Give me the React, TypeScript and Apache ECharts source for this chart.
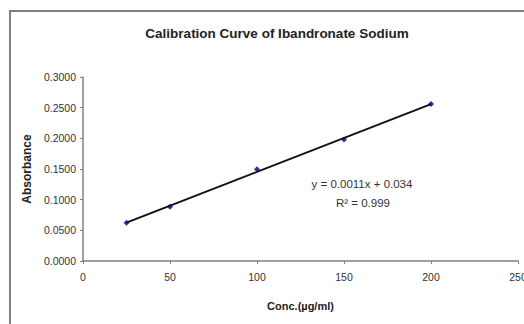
import React, { useEffect, useRef } from "react";
import * as echarts from "echarts";

const concentrations = [25, 50, 100, 150, 200];
const absorbances = [0.0624, 0.0885, 0.1495, 0.198, 0.256];
const xTicks = [0, 50, 100, 150, 200, 250];
const yTicks = [0, 0.05, 0.1, 0.15, 0.2, 0.25, 0.3];
const titleText = "Calibration Curve of Ibandronate Sodium";
const xName = "Conc.(µg/ml)";
const yName = "Absorbance";
const equationText = "y = 0.0011x + 0.034";
const r2Text = "R² = 0.999";

function fitLine(xs: number[], ys: number[]) {
  const n = xs.length;
  const mx = xs.reduce((a, b) => a + b, 0) / n;
  const my = ys.reduce((a, b) => a + b, 0) / n;
  let sxy = 0;
  let sxx = 0;
  for (let i = 0; i < n; i++) {
    sxy += (xs[i] - mx) * (ys[i] - my);
    sxx += (xs[i] - mx) * (xs[i] - mx);
  }
  const slope = sxy / sxx;
  return { slope, intercept: my - slope * mx };
}

export default function App() {
  const ref = useRef<HTMLDivElement>(null);
  useEffect(() => {
    if (!ref.current) return;
    const chart = echarts.init(ref.current, null, { renderer: "svg" });
    const { slope, intercept } = fitLine(concentrations, absorbances);
    const x0 = concentrations[0];
    const x1 = concentrations[concentrations.length - 1];
    const font = "'Liberation Sans', Arial, sans-serif";
    chart.setOption({
      animation: false,
      backgroundColor: "#ffffff",
      title: {
        text: titleText,
        left: 272,
        top: 21,
        textAlign: "center",
        textStyle: { fontFamily: font, fontSize: 13.5, fontWeight: "bold", color: "#222" },
      },
      grid: { left: 83, top: 77, right: 6, bottom: 63, containLabel: false, outerBoundsMode: "none" },
      xAxis: {
        type: "value",
        min: xTicks[0],
        max: xTicks[xTicks.length - 1],
        interval: 50,
        name: xName,
        nameLocation: "middle",
        nameGap: 39,
        nameTextStyle: { fontFamily: font, fontSize: 11, fontWeight: "bold", color: "#222" },
        axisLine: { show: true, lineStyle: { color: "#808080", width: 1.5 } },
        axisTick: { show: true, inside: false, length: 3, lineStyle: { color: "#808080" } },
        axisLabel: { fontFamily: font, fontSize: 10.5, color: "#333", margin: 10 },
        splitLine: { show: false },
      },
      yAxis: {
        type: "value",
        min: yTicks[0],
        max: yTicks[yTicks.length - 1],
        interval: 0.05,
        name: yName,
        nameLocation: "middle",
        nameGap: 50,
        nameRotate: 90,
        nameTextStyle: { fontFamily: font, fontSize: 12, fontWeight: "bold", color: "#222" },
        axisLine: { show: true, lineStyle: { color: "#808080", width: 1.5 } },
        axisTick: { show: true, inside: false, length: 3, lineStyle: { color: "#808080" } },
        axisLabel: {
          fontFamily: font,
          fontSize: 10.5,
          color: "#333",
          margin: 7,
          formatter: (v: number) => v.toFixed(4),
        },
        splitLine: { show: false },
      },
      series: [
        {
          type: "line",
          name: "Trendline",
          data: [
            [x0, slope * x0 + intercept],
            [x1, slope * x1 + intercept],
          ],
          showSymbol: false,
          symbol: "none",
          lineStyle: { color: "#111", width: 2 },
          z: 2,
        },
        {
          type: "scatter",
          name: "Absorbance",
          data: concentrations.map((c, i) => [c, absorbances[i]]),
          symbol: "diamond",
          symbolSize: 6,
          itemStyle: { color: "#000080" },
          z: 3,
        },
      ],
      graphic: [
        {
          type: "rect",
          shape: { x: 10, y: 11, width: 700, height: 500 },
          style: { fill: "none", stroke: "#7f7f7f", lineWidth: 2 },
          z: 10,
        },
        {
          type: "text",
          x: 362,
          y: 184,
          style: {
            text: equationText,
            fontFamily: font,
            fontSize: 11.5,
            fill: "#333",
            textAlign: "center",
            textVerticalAlign: "middle",
          },
        },
        {
          type: "text",
          x: 363,
          y: 203,
          style: {
            text: r2Text,
            fontFamily: font,
            fontSize: 11.5,
            fill: "#333",
            textAlign: "center",
            textVerticalAlign: "middle",
          },
        },
      ],
    });
    return () => chart.dispose();
  }, []);
  return (
    <div
      ref={ref}
      style={{ position: "fixed", left: 0, top: 0, width: 524, height: 324 }}
    />
  );
}
